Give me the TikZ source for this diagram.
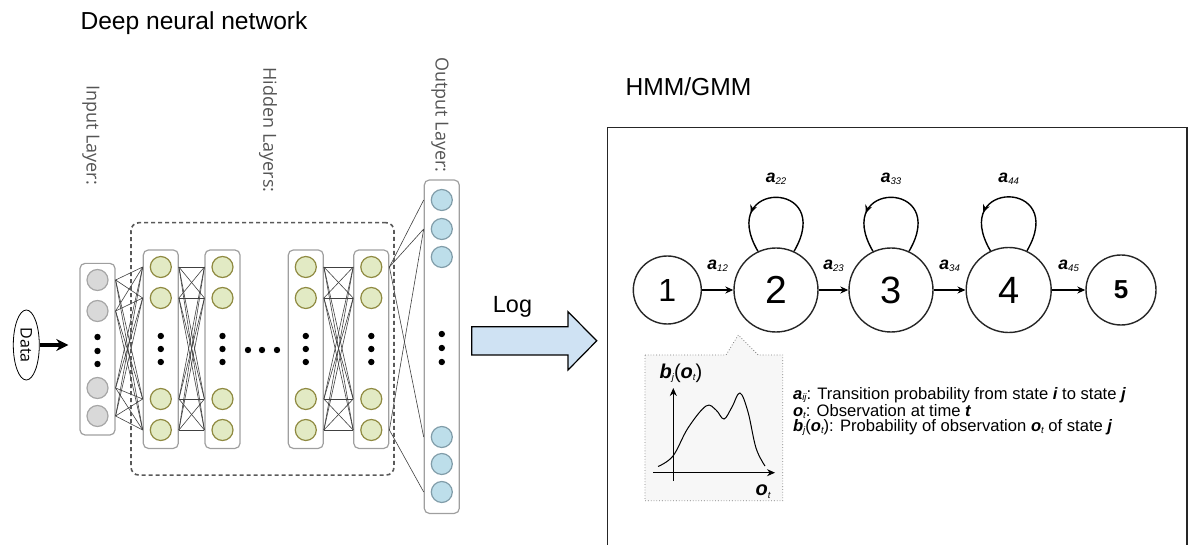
\documentclass[tikz,border=0pt]{standalone}
\usepackage{fontspec}
\setmainfont{Liberation Sans}
\newfontfamily\dnnfont{Open Sans}
\usetikzlibrary{arrows.meta,shapes.geometric,decorations.markings}

\definecolor{unitgray}{HTML}{D9D9D9}
\definecolor{unitgreen}{HTML}{E2EAC4}
\definecolor{unitblue}{HTML}{BDDEEA}
\definecolor{logblue}{HTML}{CFE2F3}
\definecolor{inkgray}{HTML}{555555}

\newcommand{\bv}[1]{{\bfseries\itshape #1}}
\newcommand{\sub}[1]{\raisebox{-0.2ex}{\fontsize{4.8}{5}\selectfont\itshape #1}}
\newcommand{\trlab}[1]{\bv{a}\sub{#1}}

\tikzset{
  layerbox/.style={draw=gray!75, rounded corners=2.5pt, line width=0.6pt, minimum width=17.5pt, inner sep=0pt},
  unit/.style={circle, minimum size=10.5pt, inner sep=0pt, line width=0.6pt},
  link/.style={draw=black!75, line width=0.3pt},
  layerlabel/.style={rotate=-90, text=inkgray, font=\dnnfont\fontsize{9}{10}\selectfont},
  state/.style={circle, draw=black!85, line width=0.7pt, inner sep=0pt},
  selfloop/.style={line width=0.7pt, postaction={decorate},
    decoration={markings, mark=at position 0.72 with {\arrow{Stealth[length=4pt,width=3.5pt]}}}},
  trlabel/.style={inner sep=0pt, font=\fontsize{8.8}{10}\selectfont},
  legend/.style={anchor=west, inner sep=0pt, font=\fontsize{8.3}{9}\selectfont}
}

\begin{document}
\begin{tikzpicture}[x=0.5pt, y=-0.5pt, >={Stealth[length=4pt,width=3.5pt]}]
  \useasboundingbox (0,0) rectangle (1189,545);

  % deep neural network
  \node[font=\fontsize{12.3}{14}\selectfont] (dnntitle) at (194,23) {Deep neural network};
  \node[layerlabel] (inlabel) at (91,135) {Input Layer:};
  \node[layerlabel] (hidlabel) at (268,130) {Hidden Layers:};
  \node[layerlabel] (outlabel) at (440,115) {Output Layer:};

  \node[draw, ellipse, rotate=-90, minimum width=35pt, minimum height=13pt, inner sep=0pt,
        font=\dnnfont\fontsize{8}{9}\selectfont] (data) at (26.3,345) {Data};
  \coordinate (datatip) at (68.3,345);
  \draw[-{Stealth[length=6pt,width=6pt]}, line width=1.6pt] (data.north) -- (datatip);

  \node[layerbox, minimum height=85.8pt] (inbox) at (97.5,349.2) {};
  \foreach \y [count=\i] in {280,311,388,416}
    \node[unit, fill=unitgray, draw=gray!70] (in\i) at (97.5,\y) {};
  \foreach \y in {337,351,364} \fill (97.5,\y) circle (1.6pt);

  \foreach \x [count=\l] in {160.8,222.5,305.8,371.3} {
    \node[layerbox, minimum height=99.2pt] (hid\l) at (\x,349.2) {};
    \foreach \y [count=\i] in {267,298,399,430}
      \node[unit, fill=unitgreen, draw=olive!55!gray] (h\l\i) at (\x,\y) {};
    \foreach \y in {336,349,362} \fill (\x,\y) circle (1.6pt);
  }
  \foreach \x in {248,262,277} \fill (\x,350) circle (1.6pt);

  \node[layerbox, minimum height=166.7pt] (outbox) at (441.8,346.7) {};
  \foreach \y [count=\i] in {200,229,257,437,464,492}
    \node[unit, fill=unitblue, draw=cyan!25!gray] (out\i) at (441.8,\y) {};
  \foreach \y in {334,348,362} \fill (441.8,\y) circle (1.6pt);

  \foreach \a in {1,...,4} \foreach \b in {1,...,4} {
    \draw[link] (in\a -| inbox.east) -- (h1\b -| hid1.west);
    \draw[link] (h1\a -| hid1.east) -- (h2\b -| hid2.west);
    \draw[link] (h3\a -| hid3.east) -- (h4\b -| hid4.west);
  }
  \foreach \a/\b in {1/1,1/2,1/4,4/2,4/6}
    \draw[link] (h4\a -| hid4.east) -- (out\b -| outbox.west);

  \node[draw=black!65, dash pattern=on 2pt off 1.5pt, line width=0.8pt, rounded corners=4pt,
        minimum width=131.5pt, minimum height=126.2pt, inner sep=0pt] (hidgroup) at (262.5,348.9) {};

  % log arrow
  \node[font=\fontsize{11.7}{13}\selectfont] (logtext) at (512.5,307) {Log};
  \draw[fill=logblue, line width=0.6pt] (471.7,326.7) -- (568,326.7) -- (568,311.7) -- (596.7,340.8)
    -- (568,370) -- (568,355) -- (471.7,355) -- cycle;

  % hmm/gmm
  \node[font=\fontsize{12.3}{14}\selectfont] (hmmtitle) at (688.5,87) {HMM/GMM};
  \draw[black!85, line width=0.7pt] (607.3,546) |- (1187,127.3) -- (1187,546);

  \node[state, minimum size=34pt, font=\fontsize{16}{16}\selectfont] (s1) at (667.3,290) {1};
  \node[state, minimum size=42pt, font=\fontsize{19.5}{20}\selectfont] (s2) at (776,290) {2};
  \node[state, minimum size=42pt, font=\fontsize{19}{20}\selectfont] (s3) at (891,290) {3};
  \node[state, minimum size=42.5pt, font=\fontsize{19}{20}\selectfont] (s4) at (1008.7,290) {4};
  \node[state, minimum size=35pt, font=\bfseries\fontsize{13}{14}\selectfont] (s5) at (1121,290) {5};

  \draw[->, line width=0.6pt] (s1) -- node[trlabel, above=9pt] {\trlab{12}} (s2);
  \draw[->, line width=0.6pt] (s2) -- node[trlabel, above=9pt] {\trlab{23}} (s3);
  \draw[->, line width=0.6pt] (s3) -- node[trlabel, above=9pt] {\trlab{34}} (s4);
  \draw[->, line width=0.6pt] (s4) -- node[trlabel, above=9pt] {\trlab{45}} (s5);

  \foreach \s/\n in {s2/22,s3/33,s4/44}
    \draw[selfloop] (\s.65) .. controls +(42,-72) and +(-42,-72) .. node[trlabel, above=6pt] {\trlab{\n}} (\s.115);

  % output probability
  \draw[gray, densely dotted, fill=black!3] (645,355) -- (726,355) -- (738.3,335) -- (758.3,355)
    -- (782.7,355) -- (782.7,500.7) -- (645,500.7) -- cycle;
  \node[font=\fontsize{10}{11}\selectfont] (bjlabel) at (681,373) {\bv{b}\sub{j}(\bv{o}\sub{t})};
  \coordinate (yaxtop) at (673.3,388);
  \coordinate (xaxend) at (775,472.7);
  \draw[->, line width=0.5pt] (673.3,481) -- (yaxtop);
  \draw[->, line width=0.5pt] (653,472.7) -- (xaxend);
  \draw[line width=0.5pt] plot[smooth, tension=0.6] coordinates {(658,466.5) (673,456) (688,428)
    (706,406) (716,410) (724,419) (732,407) (740,393) (748,412) (756,448) (765,466)};
  \node[font=\fontsize{10}{11}\selectfont] (otlabel) at (763,491.7) {\bv{o}\sub{t}};

  \node[legend] (leg1) at (792.7,395) {\bv{a}\sub{ij}: Transition probability from state \bv{i} to state \bv{j}};
  \node[legend] (leg2) at (792.7,411.2) {\bv{o}\sub{t}: Observation at time \bv{t}};
  \node[legend] (leg3) at (792.7,427.5) {\bv{b}\sub{j}(\bv{o}\sub{t}): Probability of observation \bv{o}\sub{t} of state \bv{j}};
\end{tikzpicture}
\end{document}
